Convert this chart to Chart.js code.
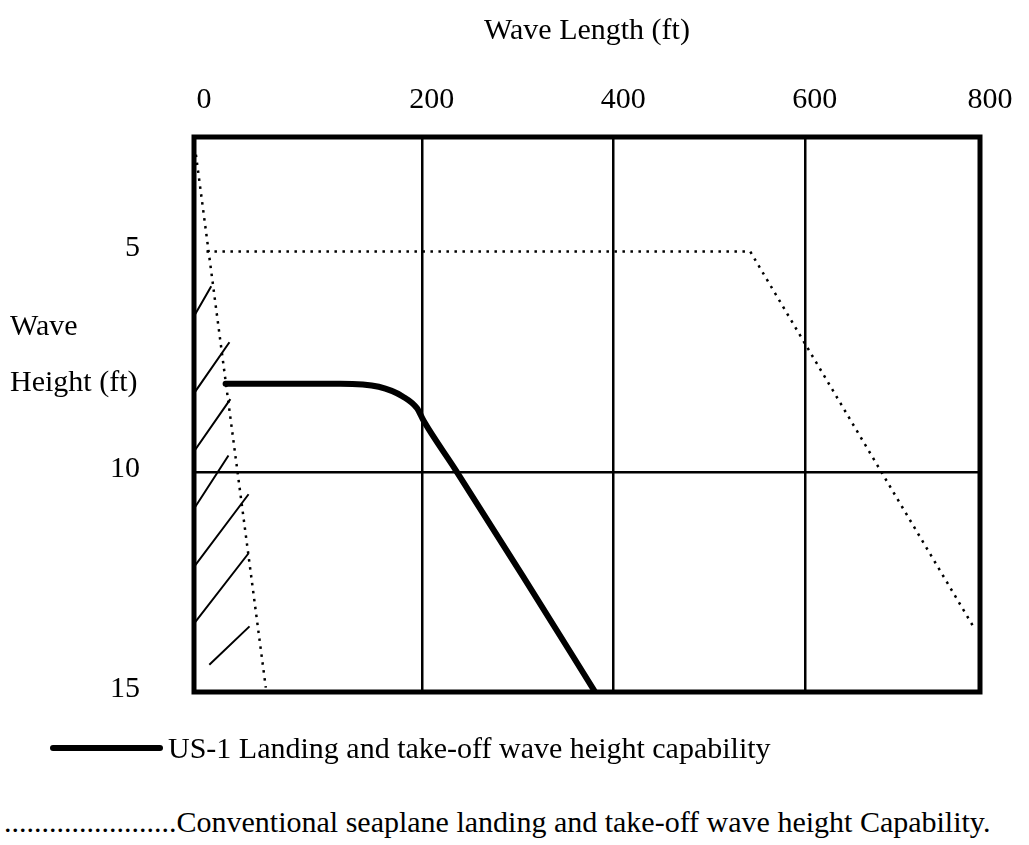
<!DOCTYPE html>
<html>
<head>
<meta charset="utf-8">
<title>Wave height capability</title>
<script src="https://cdn.jsdelivr.net/npm/chart.js@4.4.1/dist/chart.umd.min.js"></script>
<style>
  body { margin: 0; background: #fff; color: #000; font-family: "Liberation Serif", "Times New Roman", serif; }
  #box { position: absolute; left: 0; top: 0; width: 1029px; height: 764px; }
  .txt { position: absolute; font-size: 30px; white-space: nowrap; }
  #ytitle { left: 10px; top: 297px; line-height: 56px; }
  #leg1line { position: absolute; left: 50px; top: 745px; width: 113px; height: 6px; background: #000; border-radius: 3px; }
  #leg1 { left: 168px; top: 730px; line-height: 36px; }
  #leg2 { left: 4px; top: 804px; line-height: 36px; }
</style>
</head>
<body>
<div id="box"><canvas id="myChart"></canvas></div>
<div class="txt" id="ytitle">Wave<br>Height (ft)</div>
<div id="leg1line"></div>
<div class="txt" id="leg1">US-1 Landing and take-off wave height capability</div>
<div class="txt" id="leg2">.......................Conventional seaplane landing and take-off wave height Capability.</div>
<script>
// x = wave length (ft), y = wave height (ft).
// the scan's gridlines are not evenly spaced from the frame, so the axis runs
// from the frame edge to the frame edge and the end labels sit on the frame
const xMin = -38, xMax = 783;
const xGridValues = [200, 400, 600];
const xTickLabels = ['0', '200', '400', '600', '800'];
const yMin = 2.4, yMax = 15;
const yTickValues = [5, 10, 15];
const yGridValue = 10;

// US-1 (solid)
const us1Length = [-5, 115, 155, 180, 195, 202, 235, 305, 381];
const us1Height = [8.0, 8.0, 8.07, 8.29, 8.56, 8.85, 9.95, 12.35, 15];

// conventional seaplane (dotted), steep left line and the envelope
const convSteepLength = [-36, 37];
const convSteepHeight = [2.8, 14.9];
const convEnvLength = [-25, 543, 777];
const convEnvHeight = [5, 5, 13.55];

// hatching along the left edge
const hatchStartLength = [-38, -38, -38, -38, -38, -38, -22];
const hatchStartHeight = [6.47, 8.22, 9.54, 10.84, 12.16, 13.45, 14.38];
const hatchEndLength = [-20, -1, 0, -2, 19, 19, 20];
const hatchEndHeight = [5.79, 7.06, 8.35, 9.63, 10.51, 11.85, 13.51];

const toPoints = (xs, ys) => xs.map((x, i) => ({x: x, y: ys[i]}));

let hatchPoints = [];
hatchStartLength.forEach((x, i) => {
    hatchPoints.push({x: x, y: hatchStartHeight[i]});
    hatchPoints.push({x: hatchEndLength[i], y: hatchEndHeight[i]});
    hatchPoints.push({x: hatchEndLength[i], y: null});
});

const serif = {family: 'Liberation Serif', size: 30};

const framePlugin = {
    id: 'frame',
    afterDraw(chart) {
        const {ctx, chartArea: a} = chart;
        ctx.save();
        ctx.strokeStyle = '#000';
        ctx.lineWidth = 5;
        ctx.strokeRect(a.left, a.top, a.right - a.left, a.bottom - a.top);
        ctx.restore();
    }
};

const dotted = {
    borderColor: '#000',
    borderWidth: 2.5,
    borderDash: [2.5, 5.5],
    pointRadius: 0,
    tension: 0
};

const ctx = document.getElementById('myChart').getContext('2d');
const myChart = new Chart(ctx, {
    type: 'line',
    data: {
        datasets: [
            Object.assign({label: 'Conventional', data: toPoints(convSteepLength, convSteepHeight)}, dotted),
            Object.assign({label: 'Conventional envelope', data: toPoints(convEnvLength, convEnvHeight)}, dotted),
            {
                label: 'hatch',
                data: hatchPoints,
                borderColor: '#000',
                borderWidth: 2,
                pointRadius: 0,
                spanGaps: false
            },
            {
                label: 'US-1 Landing and take-off wave height capability',
                data: toPoints(us1Length, us1Height),
                borderColor: '#000',
                borderWidth: 6,
                borderCapStyle: 'round',
                pointRadius: 0,
                cubicInterpolationMode: 'monotone'
            }
        ]
    },
    options: {
        responsive: true,
        maintainAspectRatio: false,
        animation: false,
        layout: {padding: {top: 0, left: 0, right: 49, bottom: 28}},
        plugins: {legend: {display: false}, tooltip: {enabled: false}},
        scales: {
            x: {
                type: 'linear',
                position: 'top',
                min: xMin,
                max: xMax,
                afterBuildTicks: (scale) => { scale.ticks = [xMin, ...xGridValues, xMax].map(v => ({value: v})); },
                afterFit: (scale) => { scale.height = 137; },
                ticks: {
                    color: '#000',
                    font: serif,
                    padding: 19,
                    labelOffset: 10,
                    autoSkip: false,
                    maxRotation: 0,
                    callback: (value, index) => xTickLabels[index]
                },
                grid: {color: '#000', lineWidth: 2.5, drawTicks: false},
                border: {display: false},
                title: {display: true, text: 'Wave Length (ft)', color: '#000', font: serif, padding: {top: 13, bottom: 0}}
            },
            y: {
                type: 'linear',
                reverse: true,
                min: yMin,
                max: yMax,
                afterBuildTicks: (scale) => { scale.ticks = yTickValues.map(v => ({value: v})); },
                afterFit: (scale) => { scale.width = 194; },
                ticks: {color: '#000', font: serif, padding: 54, labelOffset: -3},
                grid: {
                    drawTicks: false,
                    lineWidth: 2.5,
                    color: (c) => (c.tick && c.tick.value === yGridValue) ? '#000' : 'rgba(0,0,0,0)'
                },
                border: {display: false}
            }
        }
    },
    plugins: [framePlugin]
});
</script>
</body>
</html>
